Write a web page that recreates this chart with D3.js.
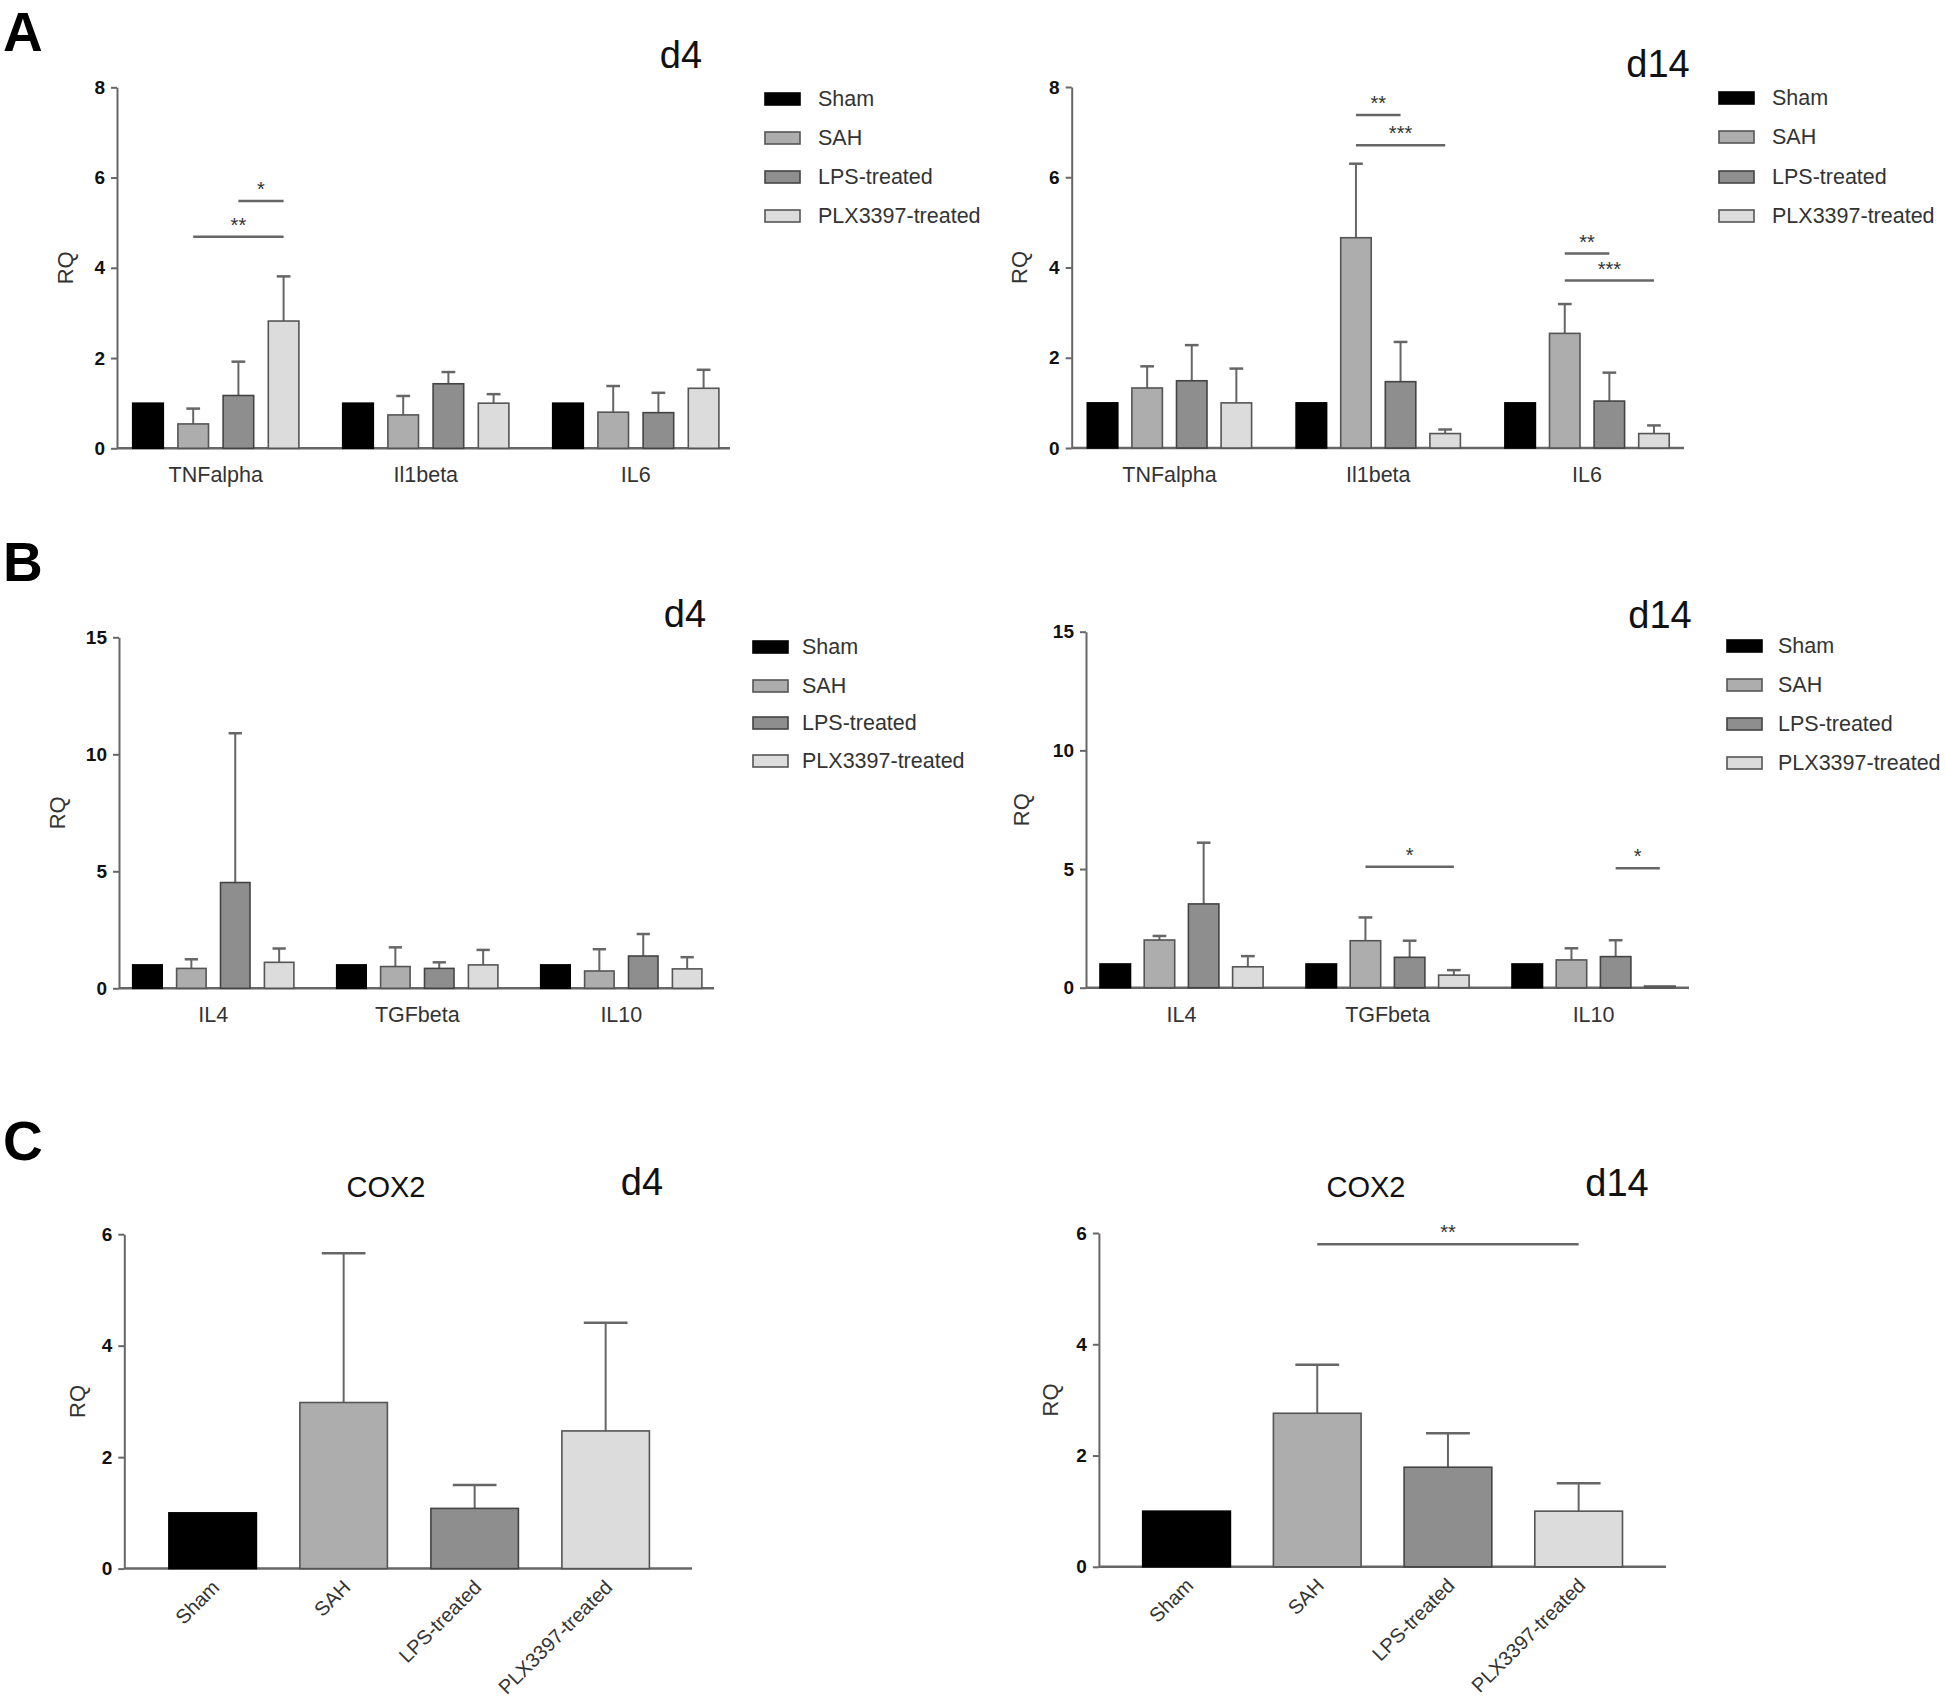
<!DOCTYPE html>
<html>
<head>
<meta charset="utf-8">
<script src="https://cdn.jsdelivr.net/npm/d3@7"></script>
<style>
  html, body { margin: 0; padding: 0; background: #ffffff; }
  svg { display: block; }
  text { font-family: "Liberation Sans", Arial, sans-serif; }
</style>
</head>
<body>
<svg id="chart" width="1946" height="1703"></svg>
<script>
// ---------------- DATA ----------------
const groups = ["Sham", "SAH", "LPS-treated", "PLX3397-treated"];
const catsA = ["TNFalpha", "Il1beta", "IL6"];
const catsB = ["IL4", "TGFbeta", "IL10"];
const ticksA = [0, 2, 4, 6, 8];
const ticksB = [0, 5, 10, 15];
const ticksC = [0, 2, 4, 6];

// means[category][group]  (Sham, SAH, LPS-treated, PLX3397-treated)
const meanA_d4  = [[1.00, 0.54, 1.17, 2.82], [1.00, 0.74, 1.43, 1.00], [1.00, 0.80, 0.79, 1.33]];
const semA_d4   = [[0, 0.34, 0.75, 0.99], [0, 0.42, 0.26, 0.20], [0, 0.58, 0.44, 0.41]];
const meanA_d14 = [[1.00, 1.33, 1.49, 1.00], [1.00, 4.66, 1.47, 0.32], [1.00, 2.54, 1.04, 0.32]];
const semA_d14  = [[0, 0.48, 0.79, 0.76], [0, 1.64, 0.88, 0.09], [0, 0.65, 0.63, 0.18]];
const meanB_d4  = [[1.00, 0.85, 4.52, 1.11], [1.00, 0.93, 0.85, 1.00], [1.00, 0.74, 1.38, 0.83]];
const semB_d4   = [[0, 0.39, 6.38, 0.59], [0, 0.82, 0.26, 0.64], [0, 0.93, 0.94, 0.50]];
const meanB_d14 = [[1.00, 2.01, 3.53, 0.88], [1.00, 1.98, 1.28, 0.53], [1.00, 1.17, 1.31, 0.07]];
const semB_d14  = [[0, 0.17, 2.58, 0.45], [0, 0.98, 0.70, 0.21], [0, 0.49, 0.69, 0]];
const meanC_d4  = [1.00, 2.98, 1.08, 2.47];
const semC_d4   = [0, 2.68, 0.42, 1.94];
const meanC_d14 = [1.00, 2.76, 1.79, 1.00];
const semC_d14  = [0, 0.87, 0.61, 0.50];

// significance: [category index, from group, to group, RQ level, label]
const sigA_d4  = [[0, 1, 3, 4.69, "**"], [0, 2, 3, 5.48, "*"]];
const sigA_d14 = [[1, 1, 2, 7.38, "**"], [1, 1, 3, 6.71, "***"], [2, 1, 2, 4.31, "**"], [2, 1, 3, 3.71, "***"]];
const sigB_d4  = [];
const sigB_d14 = [[1, 1, 3, 5.10, "*"], [2, 2, 3, 5.03, "*"]];
// single-category panels: [from group, to group, RQ level, label]
const sigC_d4  = [];
const sigC_d14 = [[1, 3, 5.80, "**"]];

// ---------------- STYLE ----------------
const fills = ["#000000", "#adadad", "#8e8e8e", "#dcdcdc"];
const strokes = ["#000000", "#555555", "#444444", "#555555"];
const axisColor = "#666666";
const errColor = "#666666";
const font = '"Liberation Sans", Arial, sans-serif';

const svg = d3.select("#chart");

function styleAxis(g) {
  g.select(".domain").attr("stroke", axisColor).attr("stroke-width", 2);
  g.selectAll(".tick line").attr("stroke", axisColor).attr("stroke-width", 2);
  g.selectAll(".tick text")
    .attr("font-family", font).attr("font-size", 19).attr("font-weight", "bold")
    .attr("fill", "#111");
}

function yAxis(cfg, ticks) {
  const y = d3.scaleLinear().domain([0, ticks[ticks.length - 1]]).range([cfg.y0, cfg.yTop]);
  const g = svg.append("g").attr("transform", `translate(${cfg.axisX},0)`)
    .call(d3.axisLeft(y).tickValues(ticks).tickFormat(d3.format("d"))
      .tickSize(6).tickPadding(6).tickSizeOuter(0));
  styleAxis(g);
  svg.append("line")
    .attr("x1", cfg.axisX).attr("x2", cfg.end)
    .attr("y1", y(0)).attr("y2", y(0))
    .attr("stroke", axisColor).attr("stroke-width", 2.5);
  svg.append("text")
    .attr("transform", `translate(${cfg.ryX},${(cfg.y0 + cfg.yTop) / 2}) rotate(-90)`)
    .attr("text-anchor", "middle").attr("dominant-baseline", "central")
    .attr("font-size", 22).attr("fill", "#333").text("RQ");
  return y;
}

function bar(x, w, y, mean, sem, j, capFrac) {
  if (sem > 0) {
    const cx = x + w / 2;
    svg.append("line").attr("x1", cx).attr("x2", cx)
      .attr("y1", y(mean)).attr("y2", y(mean + sem))
      .attr("stroke", errColor).attr("stroke-width", 2);
    svg.append("line").attr("x1", cx - w * capFrac / 2).attr("x2", cx + w * capFrac / 2)
      .attr("y1", y(mean + sem)).attr("y2", y(mean + sem))
      .attr("stroke", errColor).attr("stroke-width", 2.5);
  }
  svg.append("rect")
    .attr("x", x).attr("y", y(mean))
    .attr("width", w).attr("height", y(0) - y(mean))
    .attr("fill", fills[j]).attr("stroke", strokes[j]).attr("stroke-width", 1.6);
}

function sigLine(x1, x2, yv, label) {
  svg.append("line").attr("x1", x1).attr("x2", x2).attr("y1", yv).attr("y2", yv)
    .attr("stroke", "#666").attr("stroke-width", 2.5);
  svg.append("text").attr("x", (x1 + x2) / 2).attr("y", yv - 5)
    .attr("text-anchor", "middle").attr("font-size", 20).attr("fill", "#333").text(label);
}

function legend(lx, tx, rows) {
  groups.forEach((gName, j) => {
    svg.append("rect").attr("x", lx).attr("y", rows[j] - 6).attr("width", 35).attr("height", 12)
      .attr("fill", fills[j]).attr("stroke", strokes[j]).attr("stroke-width", 1.6);
    svg.append("text").attr("x", tx).attr("y", rows[j]).attr("dominant-baseline", "central")
      .attr("font-size", 21.5).attr("fill", "#333").text(gName);
  });
}

function title(txt, x, y, size) {
  svg.append("text").attr("x", x).attr("y", y).attr("text-anchor", "middle")
    .attr("font-size", size).attr("fill", "#111").text(txt);
}

function grouped(cfg, cats, means, sems, ticks, sigs) {
  const y = yAxis(cfg, ticks);
  const groupW = 3 * cfg.bStep + cfg.bW;
  const xo = d3.scaleBand().domain(cats)
    .range([cfg.start, cfg.start + (cats.length - 1) * cfg.gStep + groupW])
    .paddingInner(1 - groupW / cfg.gStep).paddingOuter(0);
  const xi = d3.scaleBand().domain(groups).range([0, groupW])
    .paddingInner(1 - cfg.bW / cfg.bStep).paddingOuter(0);
  cats.forEach((c, i) => {
    groups.forEach((gName, j) => {
      bar(xo(c) + xi(gName), xi.bandwidth(), y, means[i][j], sems[i][j], j, 0.45);
    });
  });
  const gx = svg.append("g").attr("transform", `translate(0,${y(0)})`)
    .call(d3.axisBottom(xo).tickSize(0).tickPadding(0));
  gx.select(".domain").remove();
  gx.selectAll(".tick text").attr("y", 34).attr("dy", 0)
    .attr("font-family", font).attr("font-size", 21.5).attr("fill", "#333");
  sigs.forEach(s => {
    const c = cats[s[0]];
    const x1 = xo(c) + xi(groups[s[1]]) + xi.bandwidth() / 2;
    const x2 = xo(c) + xi(groups[s[2]]) + xi.bandwidth() / 2;
    sigLine(x1, x2, y(s[3]), s[4]);
  });
}

function single(cfg, means, sems, ticks, sigs) {
  const y = yAxis(cfg, ticks);
  const x = d3.scaleBand().domain(groups)
    .range([cfg.start, cfg.start + 3 * cfg.bStep + cfg.bW])
    .paddingInner(1 - cfg.bW / cfg.bStep).paddingOuter(0);
  groups.forEach((gName, j) => bar(x(gName), x.bandwidth(), y, means[j], sems[j], j, 0.5));
  groups.forEach(gName => {
    const cx = x(gName) + x.bandwidth() / 2;
    svg.append("text")
      .attr("transform", `translate(${cx + 8},${y(0) + 20}) rotate(-45)`)
      .attr("text-anchor", "end").attr("font-size", 20).attr("fill", "#333").text(gName);
  });
  sigs.forEach(s => {
    const x1 = x(groups[s[0]]) + x.bandwidth() / 2;
    const x2 = x(groups[s[1]]) + x.bandwidth() / 2;
    sigLine(x1, x2, y(s[2]), s[3]);
  });
}

// ---------------- PANELS ----------------
[["A", 51], ["B", 581], ["C", 1160]].forEach(([t, yy]) => {
  svg.append("text").attr("x", 3).attr("y", yy).attr("font-size", 55)
    .attr("font-weight", "bold").attr("fill", "#000").text(t);
});

// A d4
grouped({axisX: 117, y0: 448.3, yTop: 87.3, start: 132.7, gStep: 210, bStep: 45.2, bW: 30.6, end: 730, ryX: 65},
  catsA, meanA_d4, semA_d4, ticksA, sigA_d4);
legend(765, 818, [99, 138, 177, 216]);
title("d4", 681, 68, 38);

// A d14
grouped({axisX: 1071.7, y0: 448, yTop: 87, start: 1087.3, gStep: 208.8, bStep: 44.6, bW: 30.5, end: 1684, ryX: 1019},
  catsA, meanA_d14, semA_d14, ticksA, sigA_d14);
legend(1719, 1772, [98, 137, 177, 216]);
title("d14", 1658, 77, 38);

// B d4
grouped({axisX: 119, y0: 988.3, yTop: 637.3, start: 132.7, gStep: 204, bStep: 43.9, bW: 29.5, end: 714, ryX: 57},
  catsB, meanB_d4, semB_d4, ticksB, sigB_d4);
legend(753, 802, [647, 686, 723, 761]);
title("d4", 685, 627, 38);

// B d14
grouped({axisX: 1086, y0: 987.7, yTop: 631.7, start: 1100, gStep: 206, bStep: 44.2, bW: 30.5, end: 1689, ryX: 1021},
  catsB, meanB_d14, semB_d14, ticksB, sigB_d14);
legend(1727, 1778, [646, 685, 724, 763]);
title("d14", 1660, 628, 38);

// C d4
single({axisX: 124.3, y0: 1568.6, yTop: 1234.2, start: 168.9, bStep: 131, bW: 87.5, end: 692, ryX: 77},
  meanC_d4, semC_d4, ticksC, sigC_d4);
title("COX2", 386, 1197, 29);
title("d4", 642, 1195, 38);

// C d14
single({axisX: 1098.9, y0: 1566.8, yTop: 1233, start: 1142.7, bStep: 130.7, bW: 87.7, end: 1666, ryX: 1050},
  meanC_d14, semC_d14, ticksC, sigC_d14);
title("COX2", 1366, 1197, 29);
title("d14", 1617, 1196, 38);
</script>
</body>
</html>
